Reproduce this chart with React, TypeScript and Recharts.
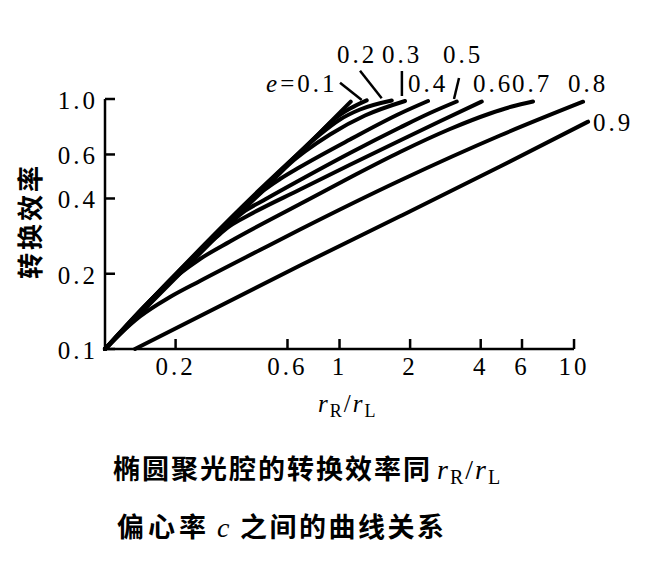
import React from 'react';
import { LineChart, Line, XAxis, YAxis, ReferenceDot, ReferenceLine } from 'recharts';

// ---- axis ticks ----
const xTicks = [0.2, 0.6, 1, 2, 4, 6, 10];
const yTicks = [0.1, 0.2, 0.4, 0.6, 1.0];

// ---- curves: [rR/rL, efficiency] ----
const curveE00 = [[0.1, 0.1], [0.3346, 0.3128], [1.1162, 0.9754]];
const curveE01 = [[0.1, 0.1], [0.8257, 0.7339], [0.9568, 0.8356], [1.1086, 0.9162], [1.3063, 0.9881]];
const curveE02 = [[0.1, 0.1], [0.7127, 0.6387], [0.8257, 0.7211], [1.0049, 0.8279], [1.223, 0.9078], [1.67, 0.9863]];
const curveE03 = [[0.1, 0.1], [0.5308, 0.4835], [0.6151, 0.5521], [0.7127, 0.6166], [0.9109, 0.7211], [1.2847, 0.859], [1.9025, 0.9818]];
const curveE04 = [[0.1, 0.1], [0.4153, 0.3837], [0.4811, 0.4345], [0.5576, 0.4786], [0.6785, 0.5346], [1.1086, 0.6887], [1.8113, 0.875], [2.3845, 0.9818]];
const curveE05 = [[0.1, 0.1], [0.3346, 0.3128], [0.3954, 0.3565], [0.4811, 0.3963], [0.6785, 0.4742], [1.1086, 0.6081], [1.8113, 0.7691], [2.4318, 0.879], [3.1608, 0.9772]];
const curveE06 = [[0.1, 0.1], [0.2945, 0.2772], [0.3412, 0.3105], [0.4153, 0.3451], [0.6785, 0.4345], [1.1086, 0.5455], [1.8113, 0.6823], [2.6827, 0.8142], [4.0417, 0.9772]];
const curveE07 = [[0.1, 0.1], [0.2089, 0.2005], [0.2541, 0.2291], [0.3412, 0.2692], [0.6785, 0.3802], [1.1086, 0.4853], [1.8113, 0.6138], [2.9598, 0.7586], [4.3834, 0.875], [5.4403, 0.9333], [6.6867, 0.9772]];
const curveE08 = [[0.1, 0.1], [0.1159, 0.1148], [0.141, 0.1349], [0.1893, 0.1614], [0.2541, 0.1871], [0.4581, 0.2489], [0.6785, 0.3006], [1.8113, 0.4721], [4.8358, 0.7145], [10.9246, 0.9754]];
const curveE09 = [[0.1342, 0.1], [0.6785, 0.2158], [1.8113, 0.3395], [4.8358, 0.537], [11.4748, 0.8113]];

const curves = [curveE00, curveE01, curveE02, curveE03, curveE04, curveE05, curveE06, curveE07, curveE08, curveE09];

// ---- curve labels (text and anchor in data units) ----
const labelTexts = ['e=0.1', '0.2', '0.3', '0.4', '0.5', '0.6', '0.7', '0.8', '0.9'];
const labelX = [0.486, 0.976, 1.518, 1.959, 2.763, 3.709, 5.44, 9.428, 12.05];
const labelY = [1.067, 1.393, 1.393, 1.067, 1.393, 1.067, 1.067, 1.067, 0.7447];

// ---- leader strokes from labels to curve ends ----
const leaderFrom = [[1.005, 1.162], [1.223, 1.298], [1.845, 1.294], [3.233, 1.213]];
const leaderTo = [[1.244, 0.991], [1.513, 1.0065], [1.845, 1.028], [3.078, 1.0]];

const SERIF = '"Liberation Serif", "DejaVu Serif", serif';
const CJK = '"Noto Sans CJK SC", "Noto Sans CJK TC", sans-serif';

const fmtY = (v: number) => (v === 1 ? '1.0' : String(v));

const XTick = (props: any) => {
  const { x, y, payload } = props;
  return (
    <text x={x} y={y} textAnchor="middle" fontFamily={SERIF} fontSize={25} letterSpacing={3} fill="#000">
      {String(payload.value)}
    </text>
  );
};

const YTick = (props: any) => {
  const { x, y, payload } = props;
  return (
    <text x={x} y={y + 10} textAnchor="end" fontFamily={SERIF} fontSize={25} letterSpacing={3} fill="#000">
      {fmtY(payload.value)}
    </text>
  );
};

const makeLabelShape = (label: string) => (p: any) => {
  const isE = label.startsWith('e=');
  return (
    <text x={p.cx} y={p.cy} fontFamily={SERIF} fontSize={25} letterSpacing={3} fill="#000">
      {isE ? (
        <>
          <tspan fontStyle="italic">e</tspan>
          <tspan>{label.slice(1)}</tspan>
        </>
      ) : (
        label
      )}
    </text>
  );
};

export default function App() {
  return (
    <div style={{ position: 'absolute', left: 0, top: 0, width: 661, height: 572, background: '#fff' }}>
      <LineChart
        width={661}
        height={430}
        margin={{ top: 99, right: 68.4, left: 45, bottom: 51 }}
      >
        <XAxis
          type="number"
          dataKey="x"
          scale="log"
          domain={[0.1, 12]}
          ticks={xTicks}
          axisLine={false}
          tickLine={{ stroke: '#000', strokeWidth: 2.5 }}
          tickSize={-10}
          tickMargin={36}
          tick={<XTick />}
          height={30}
          interval={0}
          allowDuplicatedCategory={false}
        />
        <YAxis
          type="number"
          dataKey="y"
          scale="log"
          domain={[0.1, 1]}
          ticks={yTicks}
          axisLine={{ stroke: '#000', strokeWidth: 2.5 }}
          tickLine={{ stroke: '#000', strokeWidth: 2.5 }}
          tickSize={-10}
          tickMargin={17}
          tick={<YTick />}
          width={60}
          interval={0}
        />
        <ReferenceLine
          segment={[{ x: 0.1, y: 0.1 }, { x: 10, y: 0.1 }]}
          stroke="#000"
          strokeWidth={2.5}
          ifOverflow="visible"
        />
        {curves.map((c, i) => (
          <Line
            key={'c' + i}
            data={c.map(([x, y]) => ({ x, y }))}
            dataKey="y"
            type="monotone"
            stroke="#000"
            strokeWidth={4}
            strokeLinecap="round"
            dot={false}
            activeDot={false}
            isAnimationActive={false}
          />
        ))}
        {leaderFrom.map((f, i) => (
          <ReferenceLine
            key={'l' + i}
            segment={[{ x: f[0], y: f[1] }, { x: leaderTo[i][0], y: leaderTo[i][1] }]}
            stroke="#000"
            strokeWidth={2.5}
            ifOverflow="visible"
          />
        ))}
        {labelTexts.map((t, i) => (
          <ReferenceDot
            key={'t' + i}
            x={labelX[i]}
            y={labelY[i]}
            r={1}
            ifOverflow="visible"
            shape={makeLabelShape(t)}
          />
        ))}
      </LineChart>
      <svg
        width={661}
        height={572}
        style={{ position: 'absolute', left: 0, top: 0, pointerEvents: 'none' }}
      >
        <text
          transform="translate(40,221) rotate(-90)"
          textAnchor="middle"
          fontFamily={CJK}
          fontWeight={700}
          fontSize={26}
          letterSpacing={3}
          fill="#000"
        >
          转换效率
        </text>
        <text x={318} y={412} fontFamily={SERIF} fontSize={25} letterSpacing={2} fill="#000">
          <tspan fontStyle="italic">r</tspan>
          <tspan fontSize={18} dy={5}>R</tspan>
          <tspan dy={-5}>/</tspan>
          <tspan fontStyle="italic">r</tspan>
          <tspan fontSize={18} dy={5}>L</tspan>
        </text>
        <text x={113} y={479} fontFamily={CJK} fontWeight={700} fontSize={27} letterSpacing={2} fill="#000">
          椭圆聚光腔的转换效率同
        </text>
        <text x={437} y={479} fontFamily={SERIF} fontSize={28} letterSpacing={2} fill="#000">
          <tspan fontStyle="italic">r</tspan>
          <tspan fontSize={20} dy={5}>R</tspan>
          <tspan dy={-5}>/</tspan>
          <tspan fontStyle="italic">r</tspan>
          <tspan fontSize={20} dy={5}>L</tspan>
        </text>
        <text x={117} y={537} fontFamily={CJK} fontWeight={700} fontSize={27} letterSpacing={4} fill="#000">
          偏心率
        </text>
        <text x={217} y={537} fontFamily={SERIF} fontStyle="italic" fontSize={28} fill="#000">
          c
        </text>
        <text x={240} y={537} fontFamily={CJK} fontWeight={700} fontSize={27} letterSpacing={2.5} fill="#000">
          之间的曲线关系
        </text>
      </svg>
    </div>
  );
}
